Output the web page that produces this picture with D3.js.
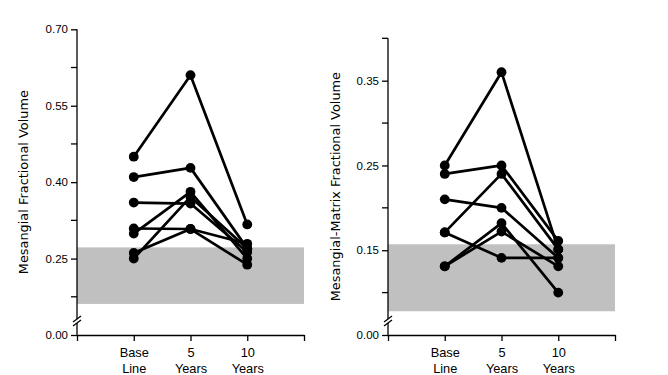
<!DOCTYPE html>
<html>
<head>
<meta charset="utf-8">
<script src="https://cdn.jsdelivr.net/npm/d3@7"></script>
<style>
  body { margin: 0; background: #fff; }
  svg { display: block; font-family: "DejaVu Sans", sans-serif; }
  .axis path, .axis line { stroke: #000; stroke-width: 1.3; }
  .axis text { fill: #000; }
</style>
</head>
<body>
<svg width="668" height="375"></svg>
<script>
// time points (x categories), drawn as two-line labels
const timeLabels = [["Base", "Line"], ["5", "Years"], ["10", "Years"]];

// left panel: mesangial fractional volume, one row per patient
const mesangialVolume = [
  [0.45, 0.61, 0.317],
  [0.41, 0.428, 0.27],
  [0.36, 0.358, 0.263],
  [0.309, 0.308, 0.279],
  [0.299, 0.381, 0.25],
  [0.261, 0.308, 0.238],
  [0.25, 0.371, 0.27]
];
const mesangialNormal = [0.161, 0.272];
const mesangialMajorTicks = [0.25, 0.40, 0.55, 0.70];
const mesangialMinorTicks = [0.175, 0.325, 0.475, 0.625];

// right panel: mesangial-matrix fractional volume
const matrixVolume = [
  [0.25, 0.36, 0.151],
  [0.24, 0.25, 0.161],
  [0.21, 0.20, 0.141],
  [0.171, 0.24, 0.151],
  [0.171, 0.141, 0.141],
  [0.131, 0.182, 0.10],
  [0.131, 0.172, 0.131]
];
const matrixNormal = [0.078, 0.157];
const matrixMajorTicks = [0.15, 0.25, 0.35];
const matrixMinorTicks = [0.10, 0.20, 0.30, 0.40];

const svg = d3.select('svg');

const drawPanel = opts => {
  const x = d3.scaleLinear().domain([0, 4]).range([opts.left, opts.left + 227]);
  const y = d3.scaleLinear().domain(opts.domain).range([335, opts.top]);
  const g = svg.append('g');

  // grey normal range
  g.append('rect')
    .attr('x', x(0))
    .attr('y', y(opts.normal[1]))
    .attr('width', x(4) - x(0))
    .attr('height', y(opts.normal[0]) - y(opts.normal[1]))
    .attr('fill', '#c0c0c0');

  // y axis: major ticks with labels, bottom labelled 0.00 (broken axis)
  const yAxis = d3.axisLeft(y)
    .tickValues([opts.domain[0]].concat(opts.major))
    .tickSize(6)
    .tickPadding(3)
    .tickFormat(d => d === opts.domain[0] ? '0.00' : d3.format('.2f')(d));
  const ya = g.append('g').attr('class', 'axis')
    .attr('transform', `translate(${x(0)},0)`)
    .call(yAxis);
  ya.select('.domain').remove();
  ya.selectAll('text').style('font-size', '11.5px');
  ya.append('g').selectAll('line').data(opts.minor).join('line')
    .attr('x1', -6).attr('x2', 0)
    .attr('y1', d => y(d)).attr('y2', d => y(d))
    .attr('stroke', '#000').attr('stroke-width', 1.3);

  // axis line with a break near the bottom
  const brk = 335 - 14;
  ya.append('line').attr('x1', 0).attr('x2', 0)
    .attr('y1', y(opts.domain[1])).attr('y2', brk - 2)
    .attr('stroke', '#000').attr('stroke-width', 1.3);
  ya.append('line').attr('x1', 0).attr('x2', 0)
    .attr('y1', brk + 2).attr('y2', 335)
    .attr('stroke', '#000').attr('stroke-width', 1.3);
  [-2, 2].forEach(o => {
    ya.append('line')
      .attr('x1', -4).attr('y1', brk + o + 3)
      .attr('x2', 4).attr('y2', brk + o - 3)
      .attr('stroke', '#000').attr('stroke-width', 1);
  });

  // x axis
  const xAxis = d3.axisBottom(x)
    .tickValues([0, 1, 2, 3, 4])
    .tickSize(6)
    .tickSizeOuter(0)
    .tickFormat('');
  const xa = g.append('g').attr('class', 'axis')
    .attr('transform', 'translate(0,335)')
    .call(xAxis);
  xa.selectAll('.tick').filter(d => d >= 1 && d <= 3)
    .append('text')
    .attr('text-anchor', 'middle')
    .style('font-size', '12.8px')
    .selectAll('tspan').data(d => timeLabels[d - 1]).join('tspan')
    .attr('x', 0)
    .attr('y', (d, i) => 22 + i * 15.5)
    .text(d => d);

  // axis title
  g.append('text')
    .attr('transform', `translate(${opts.titleX},${(opts.top + 335) / 2}) rotate(-90)`)
    .attr('text-anchor', 'middle')
    .attr('dy', '0.35em')
    .style('font-size', '12.9px')
    .attr('fill', '#000')
    .text(opts.title);

  // patient lines and dots
  const line = d3.line().x((d, i) => x(i + 1)).y(d => y(d));
  g.append('g').selectAll('path').data(opts.series).join('path')
    .attr('d', line)
    .attr('fill', 'none')
    .attr('stroke', '#000')
    .attr('stroke-width', 2.7)
    .attr('stroke-linejoin', 'round');
  g.append('g').selectAll('circle')
    .data(opts.series.flatMap(s => s.map((v, i) => ({ v, i }))))
    .join('circle')
    .attr('cx', d => x(d.i + 1))
    .attr('cy', d => y(d.v))
    .attr('r', 4.9)
    .attr('fill', '#000');
};

drawPanel({
  left: 77, top: 29.3, domain: [0.10, 0.70],
  normal: mesangialNormal, major: mesangialMajorTicks, minor: mesangialMinorTicks,
  series: mesangialVolume, title: 'Mesangial Fractional Volume', titleX: 23
});

drawPanel({
  left: 388, top: 38.3, domain: [0.05, 0.40],
  normal: matrixNormal, major: matrixMajorTicks, minor: matrixMinorTicks,
  series: matrixVolume, title: 'Mesangial-Matrix Fractional Volume', titleX: 335
});
</script>
</body>
</html>
